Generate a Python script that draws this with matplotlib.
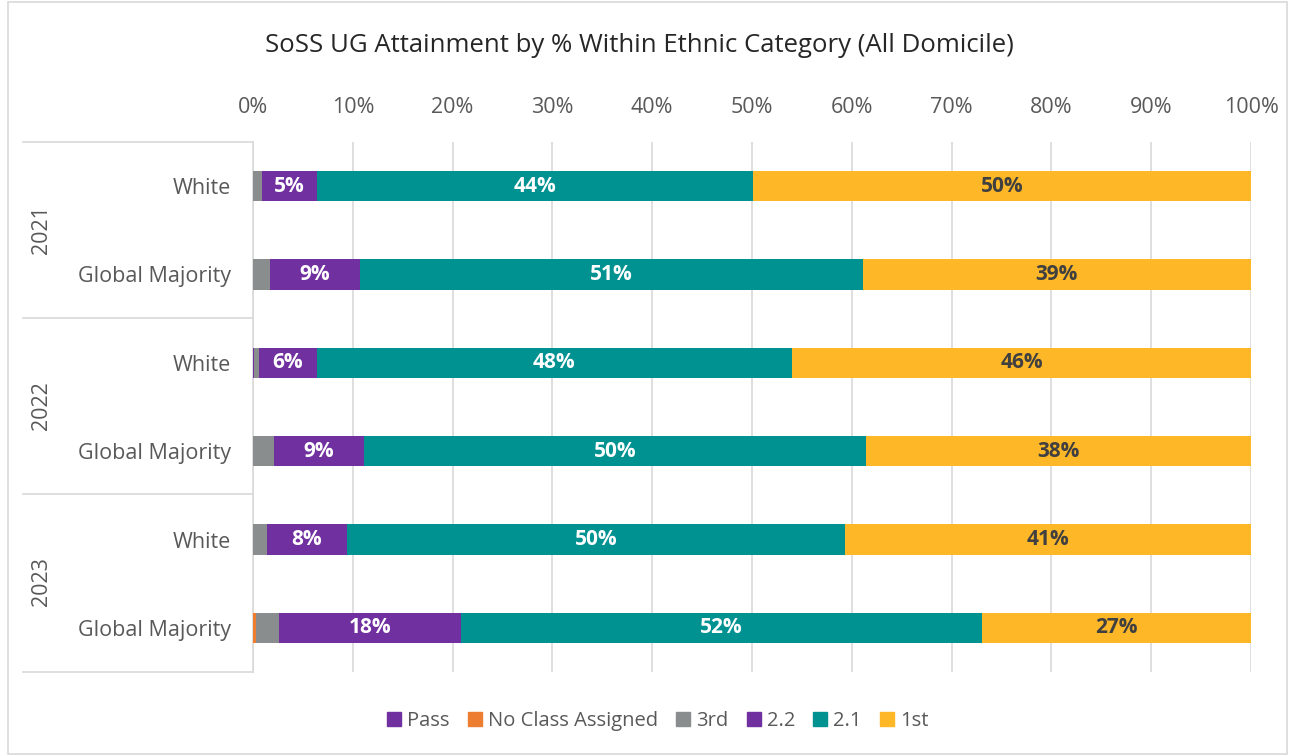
import matplotlib.pyplot as plt
from matplotlib.lines import Line2D
from matplotlib.patches import Rectangle
import numpy as np

plt.rcParams['font.family'] = ['Open Sans', 'DejaVu Sans']

# Data (percent within each ethnic category)
years = ['2021', '2022', '2023']
groups = ['White', 'Global Majority']
series = ['Pass', 'No Class Assigned', '3rd', '2.2', '2.1', '1st']
pass_vals = [0.0, 0.0, 0.1, 0.0, 0.0, 0.0]
no_class = [0.0, 0.0, 0.0, 0.0, 0.0, 0.3]
third = [0.9, 1.7, 0.5, 2.1, 1.4, 2.3]
two_two = [5.5, 9.0, 5.8, 9.0, 8.0, 18.2]
two_one = [43.7, 50.4, 47.6, 50.3, 49.9, 52.2]
first = [49.9, 38.9, 46.0, 38.6, 40.7, 27.0]
labels_22 = ['5%', '9%', '6%', '9%', '8%', '18%']
labels_21 = ['44%', '51%', '48%', '50%', '50%', '52%']
labels_1st = ['50%', '39%', '46%', '38%', '41%', '27%']

colors = ['#7030A0', '#ED7D31', '#898D8D', '#7030A0', '#009191', '#FDB727']
text_colors = {3: 'white', 4: 'white', 5: '#404040'}

fig = plt.figure(figsize=(12.95, 7.56), dpi=100)
fig.patches.append(Rectangle((8 / 1295, 0.003), 1 - 16 / 1295, 0.994, transform=fig.transFigure,
                             fill=False, edgecolor='#D9D9D9', lw=1.2))
ax = fig.add_axes([253 / 1295, 1 - 672 / 756, 998 / 1295, 530 / 756])

rows = np.arange(6)
all_vals = [pass_vals, no_class, third, two_two, two_one, first]
all_labels = {3: labels_22, 4: labels_21, 5: labels_1st}
left = np.zeros(6)
for i, (name, vals) in enumerate(zip(series, all_vals)):
    vals = np.array(vals)
    ax.barh(rows, vals, left=left, height=0.34, color=colors[i], label=name, zorder=3)
    if i in all_labels:
        for r in rows:
            ax.text(left[r] + vals[r] / 2, r, all_labels[i][r], ha='center', va='center',
                    color=text_colors[i], fontsize=15, fontweight='bold', zorder=4)
    left += vals

ax.set_xlim(0, 100)
ax.set_ylim(5.5, -0.5)
ax.set_xticks(np.arange(0, 101, 10))
ax.set_xticklabels([f'{v}%' for v in range(0, 101, 10)])
ax.xaxis.tick_top()
ax.tick_params(axis='x', length=0, labelsize=15.5, labelcolor='#595959', pad=17)
ax.set_yticks(rows)
ax.set_yticklabels(groups * 3)
ax.tick_params(axis='y', length=0, labelsize=15.5, labelcolor='#595959', pad=16)
ax.grid(axis='x', color='#D9D9D9', lw=1.2, zorder=0)
for s in ['top', 'right', 'bottom']:
    ax.spines[s].set_visible(False)
ax.spines['left'].set_color('#D9D9D9')
ax.spines['left'].set_linewidth(1.2)

# group boxes on the left
x0 = 23 / 1295
x1 = 253 / 1295
for yb in [142, 318, 494, 672]:
    yf = 1 - yb / 756
    fig.add_artist(Line2D([x0, x1], [yf, yf], color='#D9D9D9', lw=1.2))
for k, yr in enumerate(years):
    yc = 1 - (142 + 176 * k + 88) / 756
    fig.text(41 / 1295, yc, yr, rotation=90, ha='center', va='center',
             fontsize=15.5, color='#595959')

fig.text(0.494, 1 - 45 / 756, 'SoSS UG Attainment by % Within Ethnic Category (All Domicile)',
         ha='center', va='center', fontsize=18.5, color='#262626')

handles = [Rectangle((0, 0), 1, 1, color=c) for c in colors]
fig.legend(handles, series, loc='center', bbox_to_anchor=(0.508, 1 - 721 / 756), ncol=6,
           frameon=False, fontsize=14.5, handlelength=0.7, handleheight=0.7,
           handletextpad=0.3, columnspacing=0.9, labelcolor='#595959')

fig.savefig('out.png', dpi=100)
